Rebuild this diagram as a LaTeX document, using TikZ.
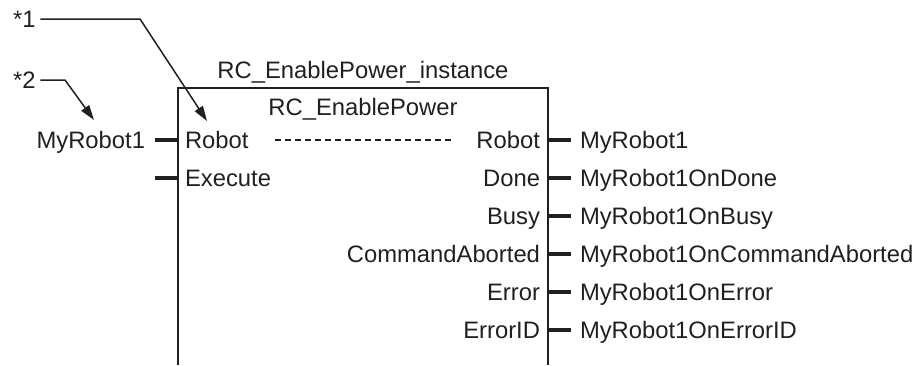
\documentclass[tikz,border=0pt]{standalone}
\usepackage{fontspec}
\setmainfont{Liberation Sans}
\usetikzlibrary{arrows.meta}
\definecolor{ink}{HTML}{231F20}
\begin{document}
\begin{tikzpicture}[x=1pt,y=-1pt,color=ink,
  lbl/.style={inner sep=0pt,outer sep=0pt,text=ink,font=\fontsize{23.8}{28}\selectfont},
  inl/.style={lbl,anchor=base west},
  inr/.style={lbl,anchor=base east},
  notelabel/.style={lbl,anchor=base west,outer xsep=5pt},
  stub/.style={line width=4.6pt},
  frame/.style={line width=2.2pt},
  callout/.style={line width=1.5pt,-{Triangle[length=15pt,width=9.5pt]}},
  dashline/.style={line width=1.2pt,dash pattern=on 6pt off 4pt}]
\useasboundingbox (0,0) rectangle (915,365);
% block frame
\coordinate (BLb) at (178,365);
\coordinate (BLt) at (178,88);
\coordinate (BRt) at (548,88);
\coordinate (BRb) at (548,365);
\draw[frame] (BLb) -- (BLt) -- (BRt) -- (BRb);
% titles
\node[lbl,anchor=base] (inst) at (363,78) {RC\_EnablePower\_instance};
\node[lbl,anchor=base] (fb) at (363,115) {RC\_EnablePower};
% left inputs
\node[inl] (inRobot) at (185,148) {Robot};
\node[inl] (inExec) at (185,186) {Execute};
\node[inr] (vRobot) at (145,148) {MyRobot1};
\coordinate (sLa1) at (155,140); \coordinate (sLb1) at (178,140);
\coordinate (sLa2) at (155,178); \coordinate (sLb2) at (178,178);
\draw[stub] (sLa1) -- (sLb1);
\draw[stub] (sLa2) -- (sLb2);
% right outputs
\foreach \nm/\txt/\val/\y in {oRobot/Robot/MyRobot1/140,
  oDone/Done/MyRobot1OnDone/178,
  oBusy/Busy/MyRobot1OnBusy/216,
  oCA/CommandAborted/MyRobot1OnCommandAborted/254,
  oErr/Error/MyRobot1OnError/292,
  oErrID/ErrorID/MyRobot1OnErrorID/330}{
  \node[inr] (\nm) at (540,\y+8) {\txt};
  \node[inl] (\nm v) at (580,\y+8) {\val};
  \coordinate (\nm a) at (548,\y);
  \coordinate (\nm b) at (571,\y);
  \draw[stub] (\nm a) -- (\nm b);
}
% dashed line Robot in to Robot out
\coordinate (dA) at (275,140);
\coordinate (dB) at (452,140);
\draw[dashline] (dA) -- (dB);
% callouts
\node[notelabel] (n1) at (8,27) {*1};
\node[notelabel] (n2) at (8,88) {*2};
\coordinate (k1) at (140,19);
\coordinate (t1) at (207,121);
\coordinate (k2) at (65,80);
\coordinate (t2) at (94,120);
\draw[callout] (n1.east |- k1) -- (k1) -- (t1);
\draw[callout] (n2.east |- k2) -- (k2) -- (t2);
\end{tikzpicture}
\end{document}
